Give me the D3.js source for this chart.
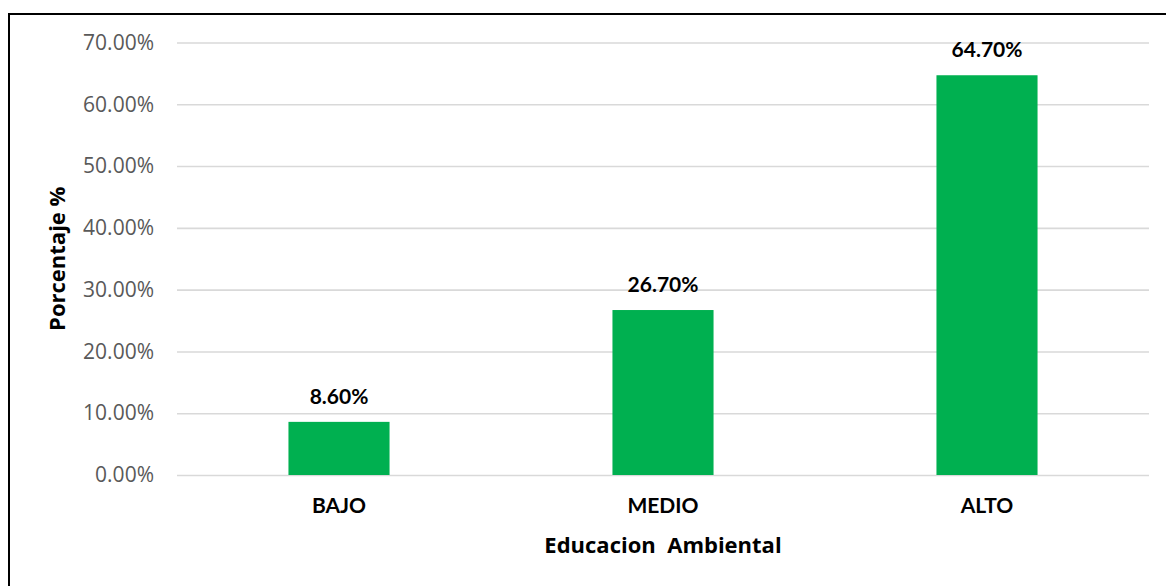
<!DOCTYPE html>
<html>
<head>
<meta charset="utf-8">
<script src="https://cdn.jsdelivr.net/npm/d3@7"></script>
<style>
	html, body { margin: 0; padding: 0; background: #fff; overflow: hidden; }
	svg { display: block; font-family: Lato, "Open Sans", sans-serif; }
</style>
</head>
<body>
<svg id="chart" width="1166" height="586"></svg>
<script>
const categories = ['BAJO', 'MEDIO', 'ALTO'];
const values = [8.6, 26.7, 64.7];
const yTicks = [0, 10, 20, 30, 40, 50, 60, 70];
const xTitle = 'Educacion\u00a0\u00a0Ambiental';
const yTitle = 'Porcentaje %';

const barColor = '#00B050';
const gridColor = '#d9d9d9';
const wideFont = '"Open Sans", Lato, sans-serif';

const svg = d3.select('#chart');
const plot = { left: 177, right: 1149, top: 42.5, bottom: 475 };

// outer border (only top and left are in frame)
svg.append('rect')
	.attr('x', 9)
	.attr('y', 14)
	.attr('width', 1200)
	.attr('height', 620)
	.attr('fill', 'none')
	.attr('stroke', '#000')
	.attr('stroke-width', 2);

let xScale = d3.scaleBand()
	.domain(categories)
	.range([ plot.left, plot.right ])
	.paddingInner(0.688)
	.paddingOuter(0.344);

let yScale = d3.scaleLinear()
	.domain([ 0, 70 ])
	.range([ plot.bottom, plot.top ]);

// gridlines + y tick labels
let yAxis = d3.axisLeft(yScale)
	.tickValues(yTicks)
	.tickSize(-(plot.right - plot.left))
	.tickPadding(23)
	.tickFormat(d => d.toFixed(2) + '%');

let gy = svg.append('g')
	.attr('transform', 'translate(' + plot.left + ',0)')
	.call(yAxis);

gy.select('.domain').remove();
gy.selectAll('.tick line')
	.attr('stroke', gridColor)
	.attr('stroke-width', 1.6);
gy.selectAll('.tick text')
	.attr('fill', '#595959')
	.attr('font-size', 21)
	.attr('font-family', wideFont);

// bars
svg.append('g').selectAll('rect')
	.data(values)
	.join('rect')
	.attr('x', (d, i) => xScale(categories[i]))
	.attr('y', d => yScale(d))
	.attr('width', xScale.bandwidth())
	.attr('height', d => yScale(0) - yScale(d))
	.attr('fill', barColor);

// value labels
svg.append('g').selectAll('text')
	.data(values)
	.join('text')
	.attr('x', (d, i) => xScale(categories[i]) + xScale.bandwidth() / 2)
	.attr('y', d => yScale(d) - 18)
	.attr('text-anchor', 'middle')
	.attr('font-size', 21)
	.attr('font-weight', 'bold')
	.attr('fill', '#000')
	.text(d => d.toFixed(2) + '%');

// x axis category labels
let xAxis = d3.axisBottom(xScale)
	.tickSize(0)
	.tickPadding(0);

let gx = svg.append('g')
	.attr('transform', 'translate(0,' + plot.bottom + ')')
	.call(xAxis);

gx.select('.domain').remove();
gx.selectAll('.tick text')
	.attr('y', 38)
	.attr('dy', 0)
	.attr('fill', '#000')
	.attr('font-size', 21)
	.attr('font-weight', 'bold')
	.attr('font-family', 'Lato, "Open Sans", sans-serif');

// axis titles
svg.append('text')
	.attr('x', (plot.left + plot.right) / 2)
	.attr('y', 553)
	.attr('text-anchor', 'middle')
	.attr('font-family', wideFont)
	.attr('font-size', 22)
	.attr('font-weight', 'bold')
	.text(xTitle);

svg.append('text')
	.attr('transform', 'translate(65,' + (plot.top + plot.bottom) / 2 + ') rotate(-90)')
	.attr('text-anchor', 'middle')
	.attr('font-family', wideFont)
	.attr('font-size', 22)
	.attr('font-weight', 'bold')
	.text(yTitle);
</script>
</body>
</html>
